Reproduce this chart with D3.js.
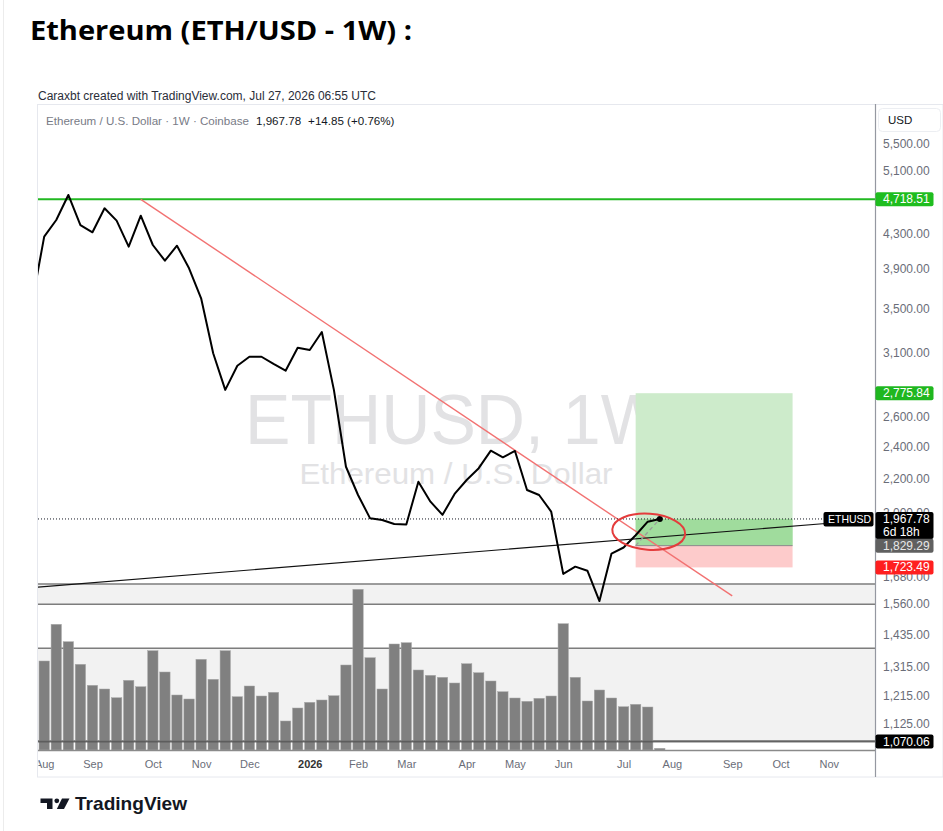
<!DOCTYPE html>
<html><head><meta charset="utf-8">
<script src="https://cdn.jsdelivr.net/npm/d3@7"></script>
<style>
body{margin:0;background:#fff;}
svg{display:block;font-family:"Liberation Sans",Arial,sans-serif;}
</style>
</head><body>
<svg id="c" width="943" height="831"></svg>
<script>
// ---------- DATA ----------
const weeks = ["2025-07-28","2025-08-04","2025-08-11","2025-08-18","2025-08-25","2025-09-01","2025-09-08","2025-09-15","2025-09-22","2025-09-29",
"2025-10-06","2025-10-13","2025-10-20","2025-10-27","2025-11-03","2025-11-10","2025-11-17","2025-11-24","2025-12-01","2025-12-08",
"2025-12-15","2025-12-22","2025-12-29","2026-01-05","2026-01-12","2026-01-19","2026-01-26","2026-02-02","2026-02-09","2026-02-16",
"2026-02-23","2026-03-02","2026-03-09","2026-03-16","2026-03-23","2026-03-30","2026-04-06","2026-04-13","2026-04-20","2026-04-27",
"2026-05-04","2026-05-11","2026-05-18","2026-05-25","2026-06-01","2026-06-08","2026-06-15","2026-06-22","2026-06-29","2026-07-06",
"2026-07-13","2026-07-20","2026-07-27"];
const closes = [3560,4260,4459,4775,4398,4311,4604,4451,4145,4512,
4164,3989,4156,3907,3599,3097,2801,2993,3067,3067,
3007,2952,3144,3124,3282,2801,2270,2101,1971,1962,
1941,1938,2179,2063,1990,2107,2189,2261,2372,2329,
2370,2130,2101,2008,1693,1727,1708,1572,1790,1820,
1882,1953,1967.78];
const volumes = [null,2670,3771,3249,2571,1941,1830,1569,2091,1899,
2979,2340,1650,1530,2721,2121,2979,1599,1920,1620,
1731,870,1260,1431,1500,1629,2550,4821,2769,1830,
3180,3219,2400,2241,2181,2010,2589,2319,2070,1749,
1560,1461,1551,1620,3789,2181,1470,1800,1560,1299,
1371,1290,51];
const priceTicks = [5500,5100,4300,3900,3500,3100,2600,2400,2200,2000,1680,1560,1435,1315,1215,1125];
const monthTickDates = ["2025-08-04","2025-09-01","2025-10-06","2025-11-03","2025-12-01","2026-01-05","2026-02-02","2026-03-02",
"2026-04-06","2026-05-04","2026-06-01","2026-07-06","2026-08-03","2026-09-07","2026-10-05","2026-11-02"];
const monthTickLabels = ["Aug","Sep","Oct","Nov","Dec","2026","Feb","Mar","Apr","May","Jun","Jul","Aug","Sep","Oct","Nov"];
const resistanceLevel = 4718.51;
const lastPrice = 1967.78;
const zoneBands = [[1558,1647],[1072,1381]];
const levelLine = 1070.06;
const redTrend = [["2025-09-29",4718.51],["2026-09-07",1594]];
const supportTrend = [["2025-07-28",1631],["2026-11-02",1945]];
const longEntry = 1829.29, longTarget = 2775.84, longStop = 1723.49;
const longStart = "2026-07-13", longEnd = "2026-10-12";
const circleCenter = ["2026-07-20",1900];

// ---------- SETUP ----------
const svg = d3.select("#c");
const parse = d3.utcParse("%Y-%m-%d");
const L = 38, R = 875, T = 105, B = 750;
const x = d3.scaleUtc().domain([parse("2025-08-04"), parse("2026-07-27")]).range([44.2, 659.8]);
const y = d3.scaleLog().domain([1125, 5500]).range([723.3, 143.3]);
const vy = d3.scaleLinear().domain([0, d3.max(volumes)]).range([B, 589.3]);
const step = x(parse("2025-08-11")) - x(parse("2025-08-04"));

const defs = svg.append("defs");
defs.append("clipPath").attr("id","pane").append("rect").attr("x",L).attr("y",T).attr("width",R-L).attr("height",B-T);
defs.append("clipPath").attr("id","timeclip").append("rect").attr("x",L+0.5).attr("y",B).attr("width",R-L).attr("height",30);

// page
svg.append("rect").attr("width",943).attr("height",831).attr("fill","#fff");
svg.append("line").attr("x1",3.5).attr("x2",3.5).attr("y1",0).attr("y2",831).attr("stroke","#ececec");

// title
svg.append("text").attr("x",30).attr("y",40).attr("font-family","'Open Sans',sans-serif").attr("font-weight",700)
  .attr("font-size",26).attr("fill","#000").attr("textLength",382).attr("lengthAdjust","spacingAndGlyphs")
  .text("Ethereum (ETH/USD - 1W) :");

svg.append("text").attr("x",38).attr("y",100).attr("font-size",12).attr("fill","#2a2e39")
  .text("Caraxbt created with TradingView.com, Jul 27, 2026 06:55 UTC");

// pane frame
svg.append("rect").attr("x",37.5).attr("y",104.5).attr("width",943-37.5).attr("height",777-104.5)
  .attr("fill","#fff").attr("stroke","#e6e8ee");

// legend
const leg = svg.append("text").attr("x",46).attr("y",124.5).attr("font-size",11.6);
leg.append("tspan").attr("fill","#787b86").text("Ethereum / U.S. Dollar · 1W · Coinbase");
leg.append("tspan").attr("fill","#131722").attr("dx",7).text("1,967.78");
leg.append("tspan").attr("fill","#131722").attr("dx",7).text("+14.85 (+0.76%)");

const pane = svg.append("g").attr("clip-path","url(#pane)");

// watermark
pane.append("text").attr("x",455).attr("y",444).attr("text-anchor","middle").attr("font-size",70)
  .attr("fill","#e2e2e4").attr("textLength",420).attr("lengthAdjust","spacingAndGlyphs").text("ETHUSD, 1W");
pane.append("text").attr("x",456).attr("y",484).attr("text-anchor","middle").attr("font-size",30)
  .attr("fill","#e2e2e4").attr("textLength",313).attr("lengthAdjust","spacingAndGlyphs").text("Ethereum / U.S. Dollar");

// zone bands
zoneBands.forEach(([lo,hi])=>{
  pane.append("rect").attr("x",L).attr("width",R-L).attr("y",y(hi)).attr("height",y(lo)-y(hi)).attr("fill","#f2f2f2");
  [lo,hi].forEach(v=>pane.append("line").attr("x1",L).attr("x2",R).attr("y1",y(v)).attr("y2",y(v))
    .attr("stroke","#7d7d7d").attr("stroke-width",1.5));
});

// volume bars
const bw = step*0.86;
pane.append("g").selectAll("rect").data(weeks.map((w,i)=>({d:parse(w),v:volumes[i]})).filter(d=>d.v!=null))
  .join("rect").attr("x",d=>x(d.d)-bw/2).attr("width",bw).attr("y",d=>vy(d.v)).attr("height",d=>B-vy(d.v))
  .attr("fill","#808080").attr("stroke","#a9a9a9").attr("stroke-width",0.5);

// level line 1070.06
pane.append("line").attr("x1",L).attr("x2",R).attr("y1",y(levelLine)).attr("y2",y(levelLine))
  .attr("stroke","#555").attr("stroke-width",1.8).attr("opacity",0.8);

// long position tool
const lx0 = x(parse(longStart)), lx1 = x(parse(longEnd));
pane.append("rect").attr("x",lx0).attr("width",lx1-lx0).attr("y",y(longTarget)).attr("height",y(longEntry)-y(longTarget)).attr("fill","#cdebcb");
pane.append("rect").attr("x",lx0).attr("width",lx1-lx0).attr("y",y(lastPrice)).attr("height",y(longEntry)-y(lastPrice)).attr("fill","#a0dc9d");
pane.append("rect").attr("x",lx0).attr("width",lx1-lx0).attr("y",y(longEntry)).attr("height",y(longStop)-y(longEntry)).attr("fill","#fdcbcb");
pane.append("line").attr("x1",lx0).attr("x2",lx1).attr("y1",y(longEntry)).attr("y2",y(longEntry)).attr("stroke","#8a8a8a").attr("stroke-width",1);

// resistance line
pane.append("line").attr("x1",L).attr("x2",R).attr("y1",y(resistanceLevel)).attr("y2",y(resistanceLevel))
  .attr("stroke","#22b822").attr("stroke-width",2);

// trend lines
const tline = d3.line().x(d=>x(parse(d[0]))).y(d=>y(d[1]));
pane.append("path").attr("d",tline(redTrend)).attr("stroke","#f27272").attr("stroke-width",1.4).attr("fill","none");
pane.append("path").attr("d",tline(supportTrend)).attr("stroke","#111").attr("stroke-width",1.1).attr("fill","none");

// last price dotted line
pane.append("line").attr("x1",L).attr("x2",824).attr("y1",y(lastPrice)).attr("y2",y(lastPrice))
  .attr("stroke","#131722").attr("stroke-width",1).attr("stroke-dasharray","1,2");

// projection dashed line
pane.append("line").attr("x1",lx0).attr("y1",y(longEntry)).attr("x2",x(parse("2026-07-27"))).attr("y2",y(lastPrice))
  .attr("stroke","#9a9a9a").attr("stroke-width",1.3).attr("stroke-dasharray","4,3");

// price line
const pline = d3.line().x((d,i)=>x(parse(weeks[i]))).y(d=>y(d)).curve(d3.curveLinear);
pane.append("path").attr("d",pline(closes)).attr("fill","none").attr("stroke","#000").attr("stroke-width",2)
  .attr("stroke-linejoin","round");
pane.append("circle").attr("cx",x(parse(weeks[weeks.length-1]))).attr("cy",y(lastPrice)).attr("r",3).attr("fill","#000");

// highlight ellipse
const ecx = x(parse(circleCenter[0]))+1, ecy = y(circleCenter[1]);
pane.append("ellipse").attr("cx",ecx).attr("cy",ecy).attr("rx",36.5).attr("ry",18)
  .attr("transform",`rotate(4,${ecx},${ecy})`).attr("fill","none").attr("stroke","#e43c3c").attr("stroke-width",2);

// ETHUSD label
svg.append("rect").attr("x",823.5).attr("y",y(lastPrice)-7).attr("width",50).attr("height",14.5).attr("rx",2).attr("fill","#000");
svg.append("text").attr("x",828).attr("y",y(lastPrice)+4).attr("font-size",10.5).attr("fill","#fff").text("ETHUSD");

// axes lines
svg.append("line").attr("x1",L).attr("x2",R).attr("y1",B+0.5).attr("y2",B+0.5).attr("stroke","#8a8a8a").attr("stroke-width",1.3);
svg.append("line").attr("x1",R+0.5).attr("x2",R+0.5).attr("y1",104).attr("y2",777).attr("stroke","#9598a1").attr("stroke-width",1.2);

// USD header
svg.append("rect").attr("x",878.5).attr("y",108.5).attr("width",62).attr("height",23).attr("rx",4).attr("fill","#fff").attr("stroke","#eceef2");
svg.append("text").attr("x",888).attr("y",124).attr("font-size",11.5).attr("fill","#131722").text("USD");

// right price axis
const yAxis = d3.axisRight(y).tickValues(priceTicks).tickFormat(d3.format(",.2f")).tickSize(0).tickPadding(8);
const ga = svg.append("g").attr("transform",`translate(${R},0)`).call(yAxis);
ga.select(".domain").remove();
ga.selectAll("text").attr("font-size",12).attr("fill","#6a6d78").attr("font-family","'Liberation Sans',Arial,sans-serif");

// bottom time axis
const xAxis = d3.axisBottom(x).tickValues(monthTickDates.map(parse)).tickFormat((d,i)=>monthTickLabels[i]).tickSize(0).tickPadding(10);
const gx = svg.append("g").attr("clip-path","url(#timeclip)").append("g").attr("transform",`translate(0,${B})`).call(xAxis);
gx.select(".domain").remove();
gx.selectAll("text").attr("font-size",11).attr("font-family","'Liberation Sans',Arial,sans-serif")
  .attr("font-weight",(d,i)=>monthTickLabels[i]==="2026"?700:400)
  .attr("fill",(d,i)=>monthTickLabels[i]==="2026"?"#333":"#6a6d78");

// price labels on axis
function priceLabel(v, bg, fg, h){
  const yy = y(v);
  svg.append("rect").attr("x",R+0.5).attr("y",yy-7).attr("width",58).attr("height",h||14).attr("rx",2).attr("fill",bg);
  svg.append("text").attr("x",883).attr("y",yy+4).attr("font-size",12).attr("fill",fg).text(d3.format(",.2f")(v));
}
priceLabel(resistanceLevel,"#1fbd1f","#fff");
priceLabel(longTarget,"#1fb71f","#fff");
priceLabel(lastPrice,"#000","#fff",27);
svg.append("text").attr("x",883).attr("y",y(lastPrice)+17).attr("font-size",12).attr("fill","#fff").text("6d 18h");
priceLabel(longEntry,"#606060","#e8e8e8");
priceLabel(longStop,"#ff1f1f","#fff");
priceLabel(levelLine,"#000","#fff");

// TradingView logo
const logo = svg.append("g").attr("fill","#131722");
logo.append("path").attr("d","M40.5 798.5 H52.5 V809 H47 V803 H40.5 Z");
logo.append("circle").attr("cx",56.8).attr("cy",800.8).attr("r",2.4);
logo.append("path").attr("d","M62 798.5 H69.5 L64 809 H56.8 Z");
svg.append("text").attr("x",75).attr("y",809.5).attr("font-size",18.5).attr("font-weight",700).attr("fill","#131722")
  .attr("textLength",112).attr("lengthAdjust","spacingAndGlyphs").text("TradingView");
</script>
</body></html>
